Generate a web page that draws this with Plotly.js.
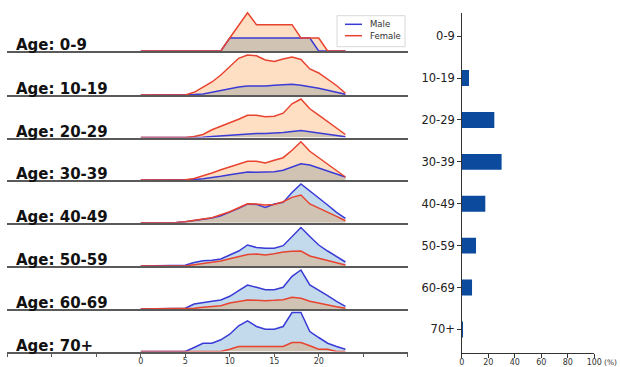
<!DOCTYPE html>
<html><head><meta charset="utf-8">
<script src="https://cdn.plot.ly/plotly-3.0.1.min.js"></script>
<style>html,body{margin:0;padding:0;background:#fff}#chart{width:620px;height:367px}</style>
</head><body><div id="chart"></div>
<script>
// ---------- data ----------
const hours = [0,1,2,3,4,5,6,7,8,9,10,11,12,13,14,15,16,17,18,19,20,21,22,23];
const ageGroups = ['0-9','10-19','20-29','30-39','40-49','50-59','60-69','70+'];
const seriesNames = ['Male', 'Female'];

// relative hourly trip profile per age group (arbitrary units, peak ~ 39)
const male_0_9     = [0,0,0,0,0,0,0,0,0,0,13,13,13,13,13,13,13,13,13,13,0,0,0,0];
const female_0_9   = [0,0,0,0,0,0,0,0,0,0,13,25.6,38.3,26.3,26.3,26.3,26.3,26.3,13,13,13,0,0,0];
const male_10_19   = [0,0,0,0,0,0,0.5,1,2.7,4.7,6,8,9,8.7,9,9.7,10,10.7,9.7,8.3,6.7,4.7,2.7,0.7];
const female_10_19 = [0,0,0,0,0,0,2.7,8,13,20,28,36.7,40,39.3,35,33.5,36,38,35.5,26,22,16,9.5,1.7];
const male_20_29   = [0,0,0,0,0,0,0.3,0.3,1,1.7,2.3,3,3.7,4,4,4.3,5,6,7,5.7,4.3,3.3,2,0.7];
const female_20_29 = [0,0,0,0,0,0,1,3,7.7,11,14.3,18.3,22.3,22.3,20.7,21.3,24.3,33.7,38.5,28.7,22.3,16,9.7,3];
const male_30_39   = [0,0,0,0,0,0,0.5,1.3,2.3,3.7,5.3,6.7,8,7.7,7.7,8.3,9.7,13,16.3,15,12,9,6,3];
const female_30_39 = [0,0,0,0,0,0.3,1.5,4,7,10.3,13,15.3,18.7,18.7,17,19.7,22.3,29.7,38.3,28.7,22.3,16,9.7,3];
const male_40_49   = [0,0,0,0,0.3,1,2,3.7,4.7,7,10.3,14.3,18.7,18.3,15.3,18.7,20.3,30.3,38.7,32,25.3,17.7,10.3,4.3];
const female_40_49 = [0,0,0,0,0.3,1,2,3.7,5,8,11,15,19,18.7,17.7,18.3,21,25.3,27.7,18.7,14.3,10.3,6.3,2];
const male_50_59   = [0,0,0,0,0,0.7,3.5,5.3,5.7,7,11,15,21,18.5,17.7,17.7,20.3,29,38.5,29.5,21,15,9.5,4];
const female_50_59 = [0,0,0,0,0,0,1.3,2.3,3.3,5,7.3,9.3,11.5,12,11,12.3,14,14.7,15,10,7.7,5.3,3.3,1];
const male_60_69   = [0,0,0,0,0,0.7,5,6.7,7.7,9,12.7,18.3,24,21.7,19.3,19.3,21.7,32.7,39,24,19,13.3,7.7,2.7];
const female_60_69 = [0,0,0,0,0,0,0.7,1.7,2.3,3.3,6,7.7,9,8.7,8.3,8.7,9.3,11.7,10.7,7.7,5.7,4,2.3,0.7];
const male_70      = [0,0,0,0,0,0,4,8.3,8.3,11.7,17.3,25.7,30.7,25,22.3,22.3,25,39,39,20,14,8.3,5,2.3];
const female_70    = [0,0,0,0,0,0,0,0,0,0,2.3,5,5,5,5,5,5,9,9,5.7,2.3,2.3,0,0];

// share (%) per age group (right panel)
const groupShare = [0, 5.5, 24.6, 30.1, 17.8, 10.8, 7.8, 1.0];

// x-axis tick labels of the ridge panel
const ridgeTickVals = [-15,-10,-5,0,5,10,15,20,25,30];
const ridgeTickText = ['','','','0','5','10','15','20','',''];
const shareTickVals = [0,20,40,60,80,100];

const maleSeries = [male_0_9,male_10_19,male_20_29,male_30_39,male_40_49,male_50_59,male_60_69,male_70];
const femaleSeries = [female_0_9,female_10_19,female_20_29,female_30_39,female_40_49,female_50_59,female_60_69,female_70];

// ---------- layout helpers ----------
const W = 620, H = 367;
const rowBase = [52, 96, 138.5, 181, 223.7, 267, 310, 352.5]; // pixel y of each baseline
const FONT = 'DejaVu Sans, sans-serif';
const MALE_LINE = '#3a3ad6', FEMALE_LINE = '#e8432f';
const MALE_FILL = 'rgba(31,119,180,0.27)', FEMALE_FILL = 'rgba(255,127,14,0.25)';
const BASE_COLOR = '#5a5a5a';
const px = v => v / W, py = v => (H - v) / H;

const traces = [];
const layout = {
  width: W, height: H,
  margin: {l:0, r:0, t:0, b:0},
  paper_bgcolor: '#fff', plot_bgcolor: 'rgba(0,0,0,0)',
  font: {family: FONT, color: '#222'},
  showlegend: false,
  annotations: [],
  shapes: [],
};

ageGroups.forEach((g, i) => {
  const n = i === 0 ? '' : String(i + 1);
  const xa = 'x' + n, ya = 'y' + n;
  const b = rowBase[i];
  layout['yaxis' + n] = {
    domain: [py(b - 1), py(b - 46)],
    range: [0, 45], visible: false, fixedrange: true, anchor: xa
  };
  const xax = {
    domain: [px(7.3), px(407.7)], range: [-15, 30], anchor: ya,
    showline: true, linecolor: BASE_COLOR, linewidth: 2,
    showgrid: false, zeroline: false, fixedrange: true,
    showticklabels: false, ticks: ''
  };
  if (i > 0) xax.matches = 'x';
  if (i === ageGroups.length - 1) {
    Object.assign(xax, {
      showticklabels: true, ticks: 'outside', ticklen: 3, tickwidth: 1, tickcolor: BASE_COLOR,
      tickmode: 'array', tickvals: ridgeTickVals, ticktext: ridgeTickText, ticklabelstandoff: -2,
      tickfont: {size: 8, family: FONT, color: '#333'}
    });
  }
  layout['xaxis' + n] = xax;

  traces.push({x: hours, y: maleSeries[i], xaxis: xa, yaxis: ya, type: 'scatter', mode: 'none',
    fill: 'tozeroy', fillcolor: MALE_FILL, hoverinfo: 'skip'});
  traces.push({x: hours, y: femaleSeries[i], xaxis: xa, yaxis: ya, type: 'scatter', mode: 'none',
    fill: 'tozeroy', fillcolor: FEMALE_FILL, hoverinfo: 'skip'});
  traces.push({x: hours, y: maleSeries[i], xaxis: xa, yaxis: ya, type: 'scatter', mode: 'lines',
    line: {color: MALE_LINE, width: 1.5}, name: seriesNames[0]});
  traces.push({x: hours, y: femaleSeries[i], xaxis: xa, yaxis: ya, type: 'scatter', mode: 'lines',
    line: {color: FEMALE_LINE, width: 1.5}, name: seriesNames[1]});

  layout.annotations.push({
    xref: 'paper', x: px(14), xanchor: 'left',
    yref: ya, y: 0, yanchor: 'bottom', yshift: -5,
    text: '<b>Age: ' + g + '</b>', showarrow: false,
    font: {family: FONT, size: 15, color: '#111'}
  });
});

// legend (matplotlib-style compact box)
layout.shapes.push({type: 'rect', xref: 'paper', yref: 'paper',
  x0: px(337), x1: px(405), y0: py(46.7), y1: py(15.7),
  line: {color: '#d8d8d8', width: 1}, fillcolor: 'rgba(255,255,255,0.85)', layer: 'above'});
[MALE_LINE, FEMALE_LINE].forEach((c, k) => {
  const yy = 24.3 + k * 11.4;
  layout.shapes.push({type: 'line', xref: 'paper', yref: 'paper',
    x0: px(345), x1: px(362), y0: py(yy), y1: py(yy), line: {color: c, width: 1.5}, layer: 'above'});
  layout.annotations.push({xref: 'paper', yref: 'paper', x: px(368), y: py(yy), xanchor: 'left', yanchor: 'middle',
    text: seriesNames[k], showarrow: false, font: {family: FONT, size: 8.5, color: '#333'}});
});

// right panel
layout.xaxis9 = {
  domain: [px(461.7), px(594.3)], range: [0, 100], anchor: 'y9',
  tickmode: 'array', tickvals: shareTickVals, ticks: 'outside', ticklen: 3.5, tickwidth: 1, tickcolor: '#333',
  showline: true, linecolor: '#333', linewidth: 1, showgrid: false, zeroline: false, fixedrange: true,
  ticklabelstandoff: -2,
  tickfont: {size: 8, family: FONT, color: '#333'}
};
layout.yaxis9 = {
  domain: [py(353.3), py(12.7)], anchor: 'x9',
  type: 'category', categoryorder: 'array', categoryarray: ageGroups, range: [7.57, -0.56],
  ticks: 'outside', ticklen: 3.5, tickwidth: 1, tickcolor: '#333',
  showline: true, linecolor: '#333', linewidth: 1, showgrid: false, zeroline: false, fixedrange: true,
  tickfont: {size: 11.5, family: FONT, color: '#222'}
};
traces.push({type: 'bar', orientation: 'h', x: groupShare, y: ageGroups, xaxis: 'x9', yaxis: 'y9',
  width: 0.38, marker: {color: '#0b4a9c'}});

layout.annotations.push({
  xref: 'paper', yref: 'paper', x: px(602), y: py(362.5), xanchor: 'left', yanchor: 'middle',
  text: '(%)', showarrow: false, font: {family: FONT, size: 7.5, color: '#333'}
});

Plotly.newPlot('chart', traces, layout, {staticPlot: true, displayModeBar: false});
</script>
</body></html>
